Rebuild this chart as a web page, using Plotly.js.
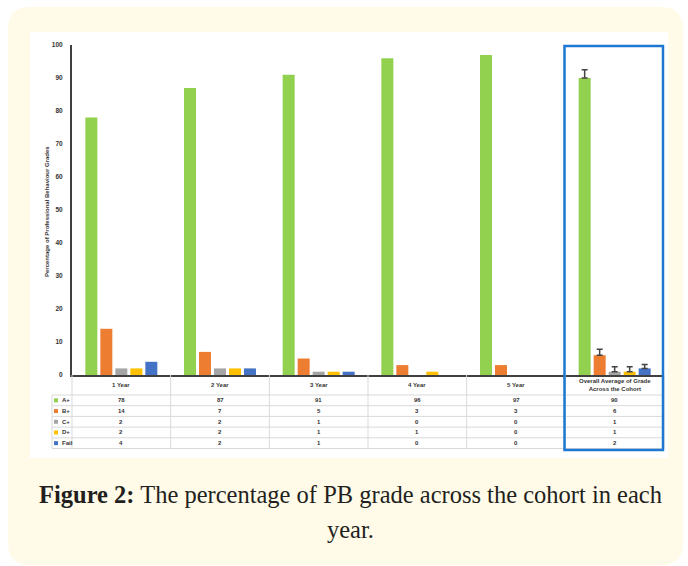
<!DOCTYPE html>
<html>
<head>
<meta charset="utf-8">
<script src="https://cdn.plot.ly/plotly-3.0.1.min.js"></script>
<style>html,body{margin:0;padding:0;background:#fff;}#chart{width:688px;height:566px;}</style>
</head>
<body>
<div id="chart"></div>
<script>
// ---- data ----
var categories = ['1 Year', '2 Year', '3 Year', '4 Year', '5 Year', 'Overall Average of Grade<br>Across the Cohort'];
var seriesNames = ['A+', 'B+', 'C+', 'D+', 'Fail'];
var aPlus = [78, 87, 91, 96, 97, 90];
var bPlus = [14, 7, 5, 3, 3, 6];
var cPlus = [2, 2, 1, 0, 0, 1];
var dPlus = [2, 2, 1, 1, 0, 1];
var fail  = [4, 2, 1, 0, 0, 2];
var overallError = [2.5, 1.8, 1.5, 1.5, 1.2];
var yTicks = [0, 10, 20, 30, 40, 50, 60, 70, 80, 90, 100];
var yTitle = 'Percentage of Professional Behaviour Grades';
var captionBold = 'Figure 2:';
var captionLine1 = ' The percentage of PB grade across the cohort in each';
var captionLine2 = 'year.';

// ---- styling ----
var colors = ['#92d050', '#ed7d31', '#a5a5a5', '#ffc000', '#4472c4'];
var series = [aPlus, bPlus, cPlus, dPlus, fail];
var W = 688, H = 566;
var L = 72, R = 664, T = 45, B = 375;
function px(X) { return (X - L) / (R - L); }
function py(Y) { return (B - Y) / (B - T); }

var traces = series.map(function (vals, i) {
  var last = categories.length - 1;
  var err = categories.map(function (c, j) { return j === last ? overallError[i] : NaN; });
  var errMinus = categories.map(function (c, j) { return j === last ? 0 : NaN; });
  return {
    type: 'bar', name: seriesNames[i], x: categories, y: vals,
    marker: { color: colors[i], line: { width: 0 } },
    error_y: { type: 'data', symmetric: false, array: err, arrayminus: errMinus, visible: true, color: '#444', thickness: 1.5, width: 3 },
    hoverinfo: 'none'
  };
});

var shapes = [];
// beige rounded background
(function () {
  var x0 = 8, x1 = 683, y0 = 7, y1 = 565, r = 22;
  function p(X, Y) { return px(X) + ',' + py(Y); }
  var d = 'M' + p(x0 + r, y0) + ' L' + p(x1 - r, y0) + ' Q' + p(x1, y0) + ' ' + p(x1, y0 + r) +
    ' L' + p(x1, y1 - r) + ' Q' + p(x1, y1) + ' ' + p(x1 - r, y1) +
    ' L' + p(x0 + r, y1) + ' Q' + p(x0, y1) + ' ' + p(x0, y1 - r) +
    ' L' + p(x0, y0 + r) + ' Q' + p(x0, y0) + ' ' + p(x0 + r, y0) + ' Z';
  shapes.push({ type: 'path', xref: 'paper', yref: 'paper', path: d, fillcolor: '#fffbe8', line: { width: 0 }, layer: 'below' });
})();
// white chart panel
shapes.push({ type: 'rect', xref: 'paper', yref: 'paper', x0: px(30), x1: px(668), y0: py(32), y1: py(458),
  fillcolor: '#ffffff', line: { width: 0 }, layer: 'below' });

// data table grid
var headerBottom = 395, rowH = 10.7, tableLeft = 52;
var tableBottom = headerBottom + rowH * seriesNames.length;
var grid = '#d9d9d9';
for (var k = 0; k <= categories.length; k++) {
  var xb = px(L + (R - L) * k / categories.length);
  shapes.push({ type: 'line', xref: 'paper', yref: 'paper', x0: xb, x1: xb, y0: py(B), y1: py(tableBottom), line: { color: grid, width: 1 } });
}
shapes.push({ type: 'line', xref: 'paper', yref: 'paper', x0: px(tableLeft), x1: px(tableLeft), y0: py(headerBottom), y1: py(tableBottom), line: { color: grid, width: 1 } });
for (var r = 0; r <= seriesNames.length; r++) {
  var yy = py(headerBottom + rowH * r);
  shapes.push({ type: 'line', xref: 'paper', yref: 'paper', x0: px(tableLeft), x1: px(R), y0: yy, y1: yy, line: { color: grid, width: 1 } });
}
// highlight box around overall group
shapes.push({ type: 'rect', xref: 'paper', yref: 'paper', x0: px(564.5), x1: px(663), y0: py(46), y1: py(450),
  line: { color: '#1e78d2', width: 2.5 }, fillcolor: 'rgba(0,0,0,0)', layer: 'above' });

var annotations = [];
var smallFont = { family: 'Liberation Sans, Arial, sans-serif', size: 6, color: '#333' };
// header labels
categories.forEach(function (c, j) {
  annotations.push({ xref: 'x', yref: 'paper', x: c, y: py(385), text: '<b>' + c + '</b>', showarrow: false,
    font: smallFont, xanchor: 'center', yanchor: 'middle' });
});
// rows
seriesNames.forEach(function (name, i) {
  var yc = py(headerBottom + rowH * (i + 0.5));
  shapes.push({ type: 'rect', xref: 'paper', yref: 'paper', x0: px(54), x1: px(58), y0: yc - 2 / (B - T), y1: yc + 2 / (B - T),
    fillcolor: colors[i], line: { width: 0 } });
  annotations.push({ xref: 'paper', yref: 'paper', x: px(59.5), y: yc, text: '<b>' + name + '</b>', showarrow: false,
    font: smallFont, xanchor: 'left', yanchor: 'middle' });
  categories.forEach(function (c, j) {
    annotations.push({ xref: 'x', yref: 'paper', x: c, y: yc, text: '<b>' + series[i][j] + '</b>', showarrow: false,
      font: smallFont, xanchor: 'center', yanchor: 'middle' });
  });
});
// y axis title
annotations.push({ xref: 'paper', yref: 'paper', x: px(47), y: py(212), text: '<b>' + yTitle + '</b>', textangle: -90,
  showarrow: false, font: { family: 'Liberation Sans, Arial, sans-serif', size: 6, color: '#333' }, xanchor: 'center', yanchor: 'middle' });
// caption
var capFont = { family: 'Liberation Serif, Times New Roman, serif', size: 24.5, color: '#231f20' };
annotations.push({ xref: 'paper', yref: 'paper', x: px(350), y: py(494), text: '<b>' + captionBold + '</b>' + captionLine1,
  showarrow: false, font: capFont, xanchor: 'center', yanchor: 'middle' });
annotations.push({ xref: 'paper', yref: 'paper', x: px(350), y: py(529), text: captionLine2,
  showarrow: false, font: capFont, xanchor: 'center', yanchor: 'middle' });

var layout = {
  width: W, height: H,
  margin: { l: L, r: W - R, t: T, b: H - B, pad: 0 },
  paper_bgcolor: '#ffffff', plot_bgcolor: 'rgba(0,0,0,0)',
  showlegend: false, barmode: 'group', bargap: 0.24, bargroupgap: 0.2,
  xaxis: { type: 'category', range: [-0.5, categories.length - 0.5], showticklabels: false, ticks: '',
    showline: true, linecolor: '#404040', linewidth: 2, showgrid: false, zeroline: false, fixedrange: true },
  yaxis: { range: [0, 100], tickvals: yTicks, ticktext: yTicks.map(String), showline: true, linecolor: '#404040', linewidth: 2,
    showgrid: false, zeroline: false, ticks: '', ticklabelstandoff: 6,
    tickfont: { family: 'Liberation Sans, Arial, sans-serif', size: 6.5, color: '#333', weight: 'bold' }, fixedrange: true },
  shapes: shapes, annotations: annotations
};
Plotly.newPlot('chart', traces, layout, { staticPlot: true, displayModeBar: false });
</script>
</body>
</html>
